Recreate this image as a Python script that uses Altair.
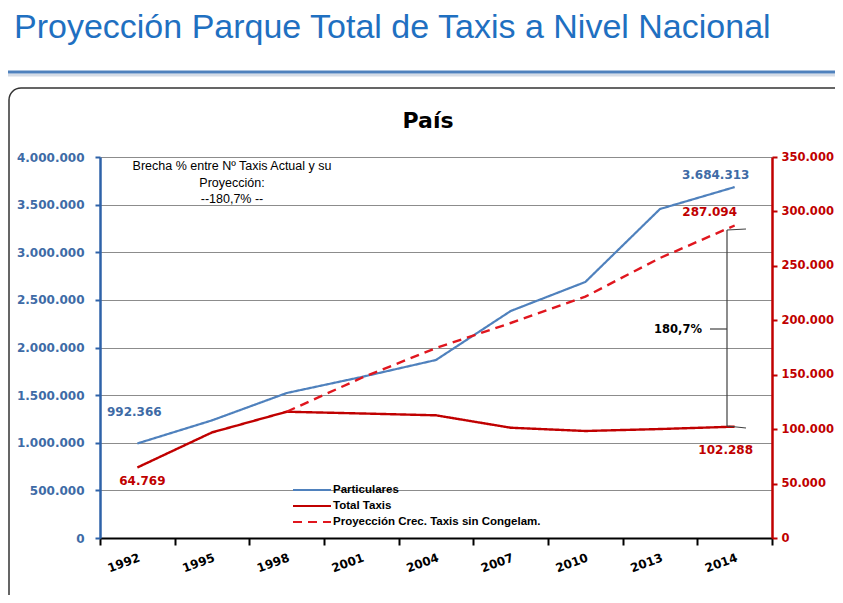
import altair as alt
import pandas as pd

years = ["1992", "1995", "1998", "2001", "2004", "2007", "2010", "2013", "2014"]
particulares = [992366, 1235000, 1522000, 1690000, 1869000, 2383000, 2688000, 3454000, 3684313]
total_taxis = [64769, 97000, 116000, 114400, 112700, 101300, 98300, 100100, 102288]
proyeccion = [None, None, 116000, 147000, 174500, 197500, 221700, 257200, 287094]
series_names = ["Particulares", "Total Taxis", "Proyección Crec. Taxis sin Congelam."]
series_colors = ["#4F81BD", "#C00000", "#E0161E"]
series_dash = [[1, 0], [1, 0], [9, 6]]
left_ticks = list(range(0, 4000001, 500000))
right_ticks = list(range(0, 350001, 50000))

page_title = "Proyección Parque Total de Taxis a Nivel Nacional"
chart_title = "País"
note_text = ["Brecha % entre Nº Taxis Actual y su", "Proyección:", "--180,7% --"]
gap_text = "180,7%"

BLUE_TXT = "#3E6BA6"
RED_TXT = "#C00000"
FONT = "DejaVu Sans"


def fmt(v):
    return f"{int(v):,}".replace(",", ".")


rows_left = [dict(year=y, series=series_names[0], value=v) for y, v in zip(years, particulares)]
rows_right = [dict(year=y, series=series_names[1], value=v) for y, v in zip(years, total_taxis)]
rows_right += [dict(year=y, series=series_names[2], value=v) for y, v in zip(years, proyeccion) if v is not None]
df_left = pd.DataFrame(rows_left)
df_right = pd.DataFrame(rows_right)

lab_expr = "replace(format(datum.value, ','), /,/g, '.')"

x_enc = alt.X(
    "year:O",
    sort=years,
    bandPosition=0.5,
    title=None,
    scale=alt.Scale(type="band", domain=years, paddingInner=0, paddingOuter=0),
    axis=alt.Axis(
        labelAngle=340, labelFont=FONT, labelFontWeight="bold", labelFontSize=12,
        labelColor="black", tickBand="extent", tickSize=7, tickWidth=2,
        tickColor="black", domainColor="black", domainWidth=2, labelPadding=7,
        grid=False,
    ),
)

color_enc = alt.Color(
    "series:N", title=None, legend=None,
    scale=alt.Scale(domain=series_names, range=series_colors),
)
dash_enc = alt.StrokeDash(
    "series:N", title=None, legend=None,
    scale=alt.Scale(domain=series_names, range=series_dash),
)

y_left = alt.Y(
    "value:Q", title=None,
    scale=alt.Scale(domain=[0, 4000000], nice=False),
    axis=alt.Axis(
        orient="left", values=left_ticks, labelExpr=lab_expr, labelFont=FONT,
        labelFontWeight="bold", labelFontSize=12, labelColor=BLUE_TXT,
        domainColor="#2E62A8", domainWidth=2.5, tickColor="#2E62A8", tickWidth=2,
        tickSize=5, labelPadding=11, grid=True, gridColor="#8C8C8C", gridWidth=1,
    ),
)
y_right = alt.Y(
    "value:Q", title=None,
    scale=alt.Scale(domain=[0, 350000], nice=False),
    axis=alt.Axis(
        orient="right", values=right_ticks, labelExpr=lab_expr, labelFont=FONT,
        labelFontWeight="bold", labelFontSize=11.5, labelColor=RED_TXT,
        domainColor="#C00000", domainWidth=2.5, tickColor="#C00000", tickWidth=2,
        tickSize=5, labelPadding=4, grid=False,
    ),
)

left_line = alt.Chart(df_left).mark_line(strokeWidth=2.2).encode(
    x=x_enc, y=y_left, color=color_enc, strokeDash=dash_enc
)
right_line = alt.Chart(df_right).mark_line(strokeWidth=2.4).encode(
    x=x_enc, y=y_right, color=color_enc, strokeDash=dash_enc, detail="series:N"
)


def value_label(df, year, series, color, dx, dy, y_enc):
    sub = df[(df.year == year) & (df.series == series)].copy()
    sub["label"] = sub["value"].map(fmt)
    return alt.Chart(sub).mark_text(
        font=FONT, fontWeight="bold", fontSize=12, color=color, dx=dx, dy=dy
    ).encode(x=x_enc, y=y_enc, text="label:N")


left_labels = alt.layer(
    value_label(df_left, "1992", series_names[0], BLUE_TXT, -3, -31, y_left),
    value_label(df_left, "2014", series_names[0], BLUE_TXT, -19, -12, y_left),
)
right_labels = alt.layer(
    value_label(df_right, "1992", series_names[1], RED_TXT, 5, 14, y_right),
    value_label(df_right, "2014", series_names[2], RED_TXT, -25, -13, y_right),
    value_label(df_right, "2014", series_names[1], RED_TXT, -9, 23, y_right),
)

left_layer = alt.layer(left_line, left_labels)
right_layer = alt.layer(right_line, right_labels)

one = pd.DataFrame({"k": [0]})


def deco_text(text, x, y, **kw):
    return alt.Chart(one).mark_text(text=text, **kw).encode(x=alt.value(x), y=alt.value(y))


def deco_rule(x, x2, y, y2, color="#404040", width=1.2, dash=None):
    kw = {}
    if dash is not None:
        kw["strokeDash"] = dash
    return alt.Chart(one).mark_rule(color=color, strokeWidth=width, **kw).encode(
        x=alt.value(x), x2=alt.value(x2), y=alt.value(y), y2=alt.value(y2)
    )


# manual legend (symbol + label per series)
legend_layers = []
for i, (name, col, dsh) in enumerate(zip(series_names, series_colors, series_dash)):
    yy = 333 + 16 * i
    legend_layers.append(deco_rule(193, 231, yy, yy, color=col, width=2, dash=dsh))
    legend_layers.append(
        deco_text(name, 233, yy, font="Liberation Sans", fontSize=11.5, fontWeight="bold",
                  color="black", align="left", baseline="middle")
    )

box = alt.Chart(one).mark_rect(
    fill="white", fillOpacity=0, stroke="#333333", strokeWidth=1.5, cornerRadius=12
).encode(x=alt.value(-91), x2=alt.value(780), y=alt.value(-69), y2=alt.value(470))

decor = alt.layer(
    box,
    deco_rule(-100, 800, -82, -82, color="#D5DCE6", width=3),
    deco_rule(-100, 800, -85, -85, color="#4F81BD", width=3),
    deco_text(page_title, -86, -119, font="Liberation Sans", fontSize=34,
              color="#1F70C1", align="left", baseline="alphabetic"),
    deco_text(chart_title, 328, -29, font=FONT, fontSize=22, fontWeight="bold",
              color="black", align="center", baseline="alphabetic"),
    deco_text(note_text, 132, 3, font="Liberation Sans", fontSize=12.5, color="black",
              align="center", baseline="top", lineHeight=16.7),
    deco_rule(627, 627, 73, 269),
    deco_rule(627, 646, 73, 72),
    deco_rule(627, 646, 269, 271),
    deco_rule(610, 627, 172, 172),
    deco_text(gap_text, 602, 173, font=FONT, fontSize=11.5, fontWeight="bold",
              color="black", align="right", baseline="middle"),
    *legend_layers,
)

chart = (
    alt.layer(left_layer, right_layer, decor)
    .resolve_scale(y="independent")
    .properties(
        width=672, height=381,
        padding={"left": 92, "top": 149, "right": 63, "bottom": 57},
        autosize=alt.AutoSizeParams(type="none"),
    )
    .configure_view(strokeWidth=0)
    .configure(font=FONT)
)

chart.save("out.html", embed_options={"renderer": "svg", "actions": False})
